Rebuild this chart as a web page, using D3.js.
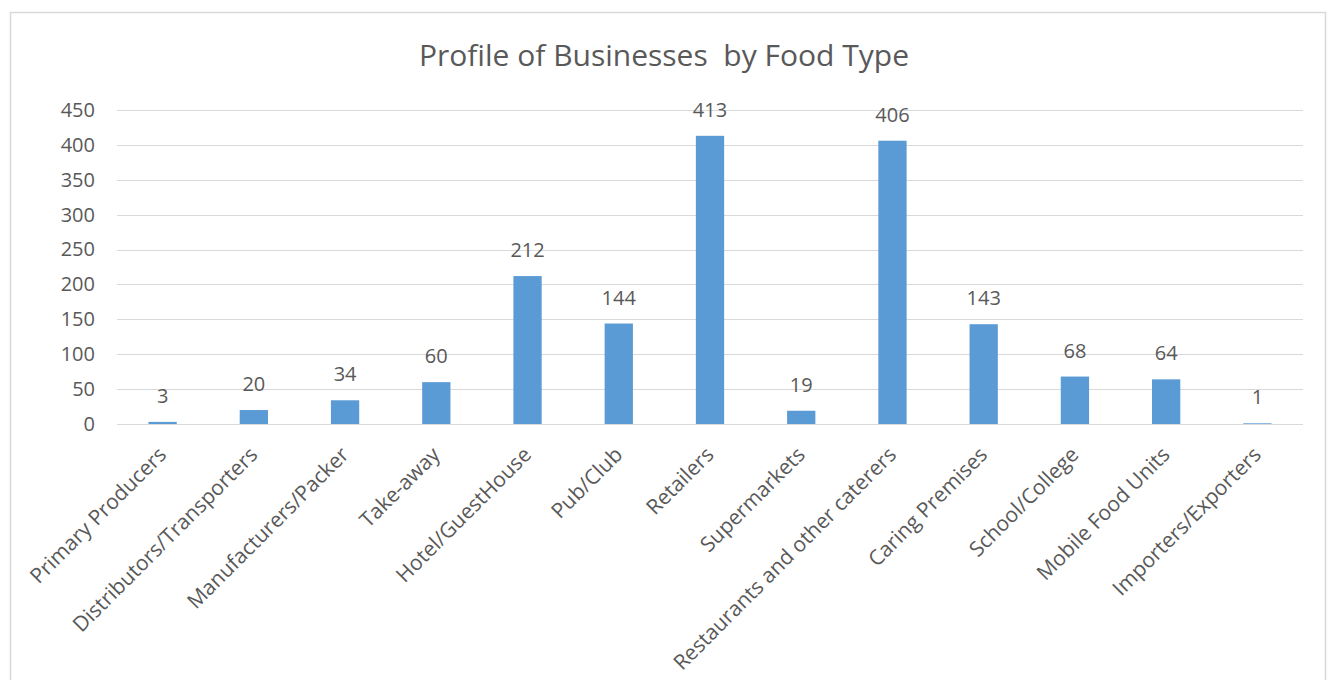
<!DOCTYPE html>
<html>
<head>
<meta charset="utf-8">
<script src="https://cdn.jsdelivr.net/npm/d3@7"></script>
<style>
  body { margin: 0; background: #fff; }
  text { font-family: "Open Sans", Lato, sans-serif; fill: #595959; }
</style>
</head>
<body>
<div id="chart"></div>
<script>
// Data
const categories = [
  "Primary Producers", "Distributors/Transporters", "Manufacturers/Packer",
  "Take-away", "Hotel/GuestHouse", "Pub/Club", "Retailers", "Supermarkets",
  "Restaurants and other caterers", "Caring Premises", "School/College",
  "Mobile Food Units", "Importers/Exporters"
];
const counts = [3, 20, 34, 60, 212, 144, 413, 19, 406, 143, 68, 64, 1];
const yTicks = [0, 50, 100, 150, 200, 250, 300, 350, 400, 450];

const width = 1333;
const height = 680;
const margin = { top: 110, right: 30, bottom: 256, left: 117 };
const chartWidth = 1303 - margin.left;
const chartHeight = 424 - margin.top;

const svg = d3.select("#chart").append("svg")
  .attr("width", width)
  .attr("height", height);

// Chart border
svg.append("rect")
  .attr("x", 10.5).attr("y", 12.5)
  .attr("width", 1315).attr("height", 680)
  .attr("fill", "#fff")
  .attr("stroke", "#d9d9d9")
  .attr("stroke-width", 1.5);

// Title (the original has a double space before "by")
svg.append("text")
  .attr("x", 664).attr("y", 66)
  .attr("text-anchor", "middle")
  .style("font-size", "30px")
  .style("white-space", "pre")
  .text("Profile of Businesses  by Food Type");

const g = svg.append("g")
  .attr("transform", `translate(${margin.left}, ${margin.top})`);

const x = d3.scaleBand()
  .domain(categories)
  .range([0, chartWidth])
  .paddingInner(0.69)
  .paddingOuter(0.345);

const y = d3.scaleLinear()
  .domain([0, 450])
  .range([chartHeight, 0]);

// Gridlines
g.append("g")
  .selectAll("line")
  .data(yTicks)
  .join("line")
  .attr("x1", 0).attr("x2", chartWidth)
  .attr("y1", (d) => Math.round(y(d)) + 0.5)
  .attr("y2", (d) => Math.round(y(d)) + 0.5)
  .attr("stroke", "#d9d9d9")
  .attr("stroke-width", 1.2);

// Y axis labels
const yAxis = g.append("g")
  .call(d3.axisLeft(y).tickValues(yTicks).tickSize(0).tickPadding(22));
yAxis.select(".domain").remove();
yAxis.selectAll("text")
  .style("font-size", "20px")
  .style("font-family", "'Open Sans', sans-serif")
  .attr("fill", "#595959");

// Bars
g.selectAll(".bar")
  .data(counts)
  .join("rect")
  .attr("class", "bar")
  .attr("x", (d, i) => x(categories[i]))
  .attr("y", (d) => y(d))
  .attr("width", x.bandwidth())
  .attr("height", (d) => chartHeight - y(d))
  .attr("fill", "#5b9bd5");

// Value labels
g.selectAll(".val")
  .data(counts)
  .join("text")
  .attr("class", "val")
  .attr("x", (d, i) => x(categories[i]) + x.bandwidth() / 2)
  .attr("y", (d) => y(d) - 19)
  .attr("text-anchor", "middle")
  .style("font-size", "20px")
  .text((d) => d);

// X axis category labels (rotated)
g.selectAll(".cat")
  .data(categories)
  .join("text")
  .attr("class", "cat")
  .attr("text-anchor", "end")
  .attr("transform", (d) =>
    `translate(${x(d) + x.bandwidth() / 2 + 5}, ${chartHeight + 32}) rotate(-45)`)
  .style("font-size", "21px")
  .text((d) => d);
</script>
</body>
</html>
